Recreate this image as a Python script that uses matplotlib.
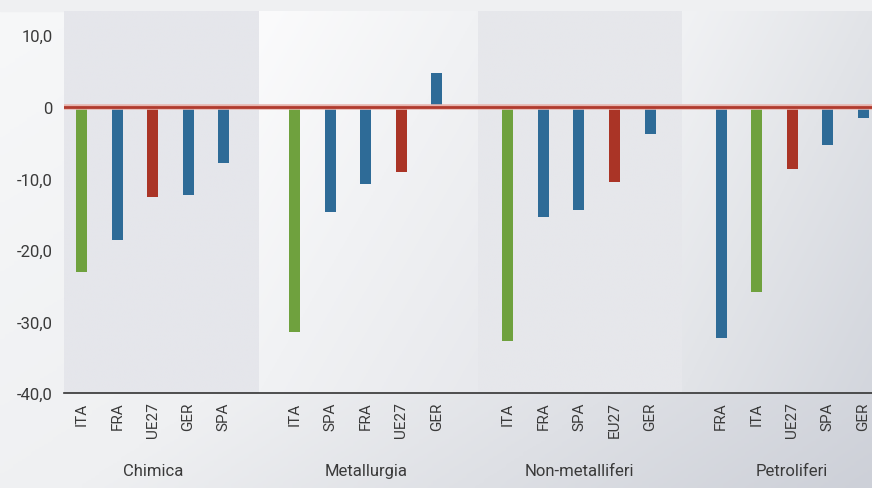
import numpy as np
import matplotlib.pyplot as plt
from matplotlib.colors import LinearSegmentedColormap

plt.rcParams['font.family'] = ['Roboto', 'DejaVu Sans']

# Data (variazione %, settori)
groups = ['Chimica', 'Metallurgia', 'Non-metalliferi', 'Petroliferi']
chimica_labels = ['ITA', 'FRA', 'UE27', 'GER', 'SPA']
chimica_vals = [-23.1, -18.6, -12.6, -12.3, -7.8]
metallurgia_labels = ['ITA', 'SPA', 'FRA', 'UE27', 'GER']
metallurgia_vals = [-31.5, -14.7, -10.8, -9.1, 4.8]
nonmet_labels = ['ITA', 'FRA', 'SPA', 'EU27', 'GER']
nonmet_vals = [-32.7, -15.4, -14.4, -10.5, -3.8]
petrol_labels = ['FRA', 'ITA', 'UE27', 'SPA', 'GER']
petrol_vals = [-32.3, -25.9, -8.7, -5.3, -1.5]

yticks = [10, 0, -10, -20, -30, -40]
ytick_labels = ['10,0', '0', '-10,0', '-20,0', '-30,0', '-40,0']

GREEN = '#6fa13e'
BLUE = '#2e6b97'
RED = '#aa3426'


def bar_color(lab):
    if lab == 'ITA':
        return GREEN
    if lab in ('UE27', 'EU27'):
        return RED
    return BLUE


fig = plt.figure(figsize=(8.72, 4.89), dpi=100)

# background gradient over the whole figure
bg = fig.add_axes([0, 0, 1, 1], zorder=-10)
bg.axis('off')
xx, yy = np.meshgrid(np.linspace(0, 1, 200), np.linspace(0, 1, 200))
grad = 0.55 * xx + 0.45 * yy
cmap_bg = LinearSegmentedColormap.from_list('bg', ['#f7f8f9', '#eff0f2', '#cdd0d8'])
bg.imshow(grad, cmap=cmap_bg, extent=[0, 1, 0, 1], aspect='auto', origin='upper')
bg.add_patch(plt.Rectangle((0, 1 - 12 / 489), 1, 12 / 489, color='#eff0f2'))
bg.set_xlim(0, 1)
bg.set_ylim(0, 1)

ax = fig.add_axes([64 / 872, 1 - 394 / 489, 1 - 64 / 872, 382 / 489])
ax.patch.set_alpha(0)

all_groups = [
    (chimica_labels, chimica_vals),
    (metallurgia_labels, metallurgia_vals),
    (nonmet_labels, nonmet_vals),
    (petrol_labels, petrol_vals),
]

xlim = (-0.5, 22.25)
ylim = (-40, 13.4)

# panel backgrounds
bounds = [xlim[0], 5.0, 11.15, 16.9, xlim[1]]
panel_cmaps = [
    LinearSegmentedColormap.from_list('p0', ['#e5e6eb', '#e5e6eb']),
    LinearSegmentedColormap.from_list('p1', ['#fbfbfc', '#f1f2f4', '#e8e9ed']),
    LinearSegmentedColormap.from_list('p2', ['#e6e7eb', '#e6e7eb']),
    LinearSegmentedColormap.from_list('p3', ['#f1f2f4', '#e2e4e8', '#d3d6dd']),
]
for i in range(4):
    px, py = np.meshgrid(np.linspace(0, 1, 100), np.linspace(0, 1, 100))
    ax.imshow(0.5 * px + 0.5 * py, cmap=panel_cmaps[i], aspect='auto',
              extent=[bounds[i], bounds[i + 1], ylim[0], ylim[1]],
              origin='upper', zorder=0)

tick_pos = []
tick_lab = []
centers = []
for g, (labs, vals) in enumerate(all_groups):
    pos = np.arange(5) + 6 * g
    ax.bar(pos, vals, width=0.31, color=[bar_color(l) for l in labs], zorder=2)
    tick_pos.extend(pos)
    tick_lab.extend(labs)
    centers.append(pos.mean())

ax.axhline(0, color='#e8b4ae', lw=4, zorder=3)
ax.axhline(0, color='#b03a2e', lw=2, zorder=4)

ax.set_xlim(*xlim)
ax.set_ylim(*ylim)
ax.set_yticks(yticks)
ax.set_yticklabels(ytick_labels, fontsize=12, color='#3a3a3a')
ax.set_xticks(tick_pos)
ax.set_xticklabels(tick_lab, rotation=90, fontsize=11, color='#3a3a3a')
ax.tick_params(axis='both', length=0, pad=8)
ax.tick_params(axis='x', pad=6)

for s in ['top', 'right', 'left']:
    ax.spines[s].set_visible(False)
ax.spines['bottom'].set_color('#333333')
ax.spines['bottom'].set_linewidth(1.2)
ax.spines['bottom'].set_zorder(5)

for c, name in zip(centers, groups):
    ax.text(c, -50.9, name, ha='center', va='center', fontsize=12,
            color='#3a3a3a', clip_on=False)

fig.savefig('out.png', dpi=100)
